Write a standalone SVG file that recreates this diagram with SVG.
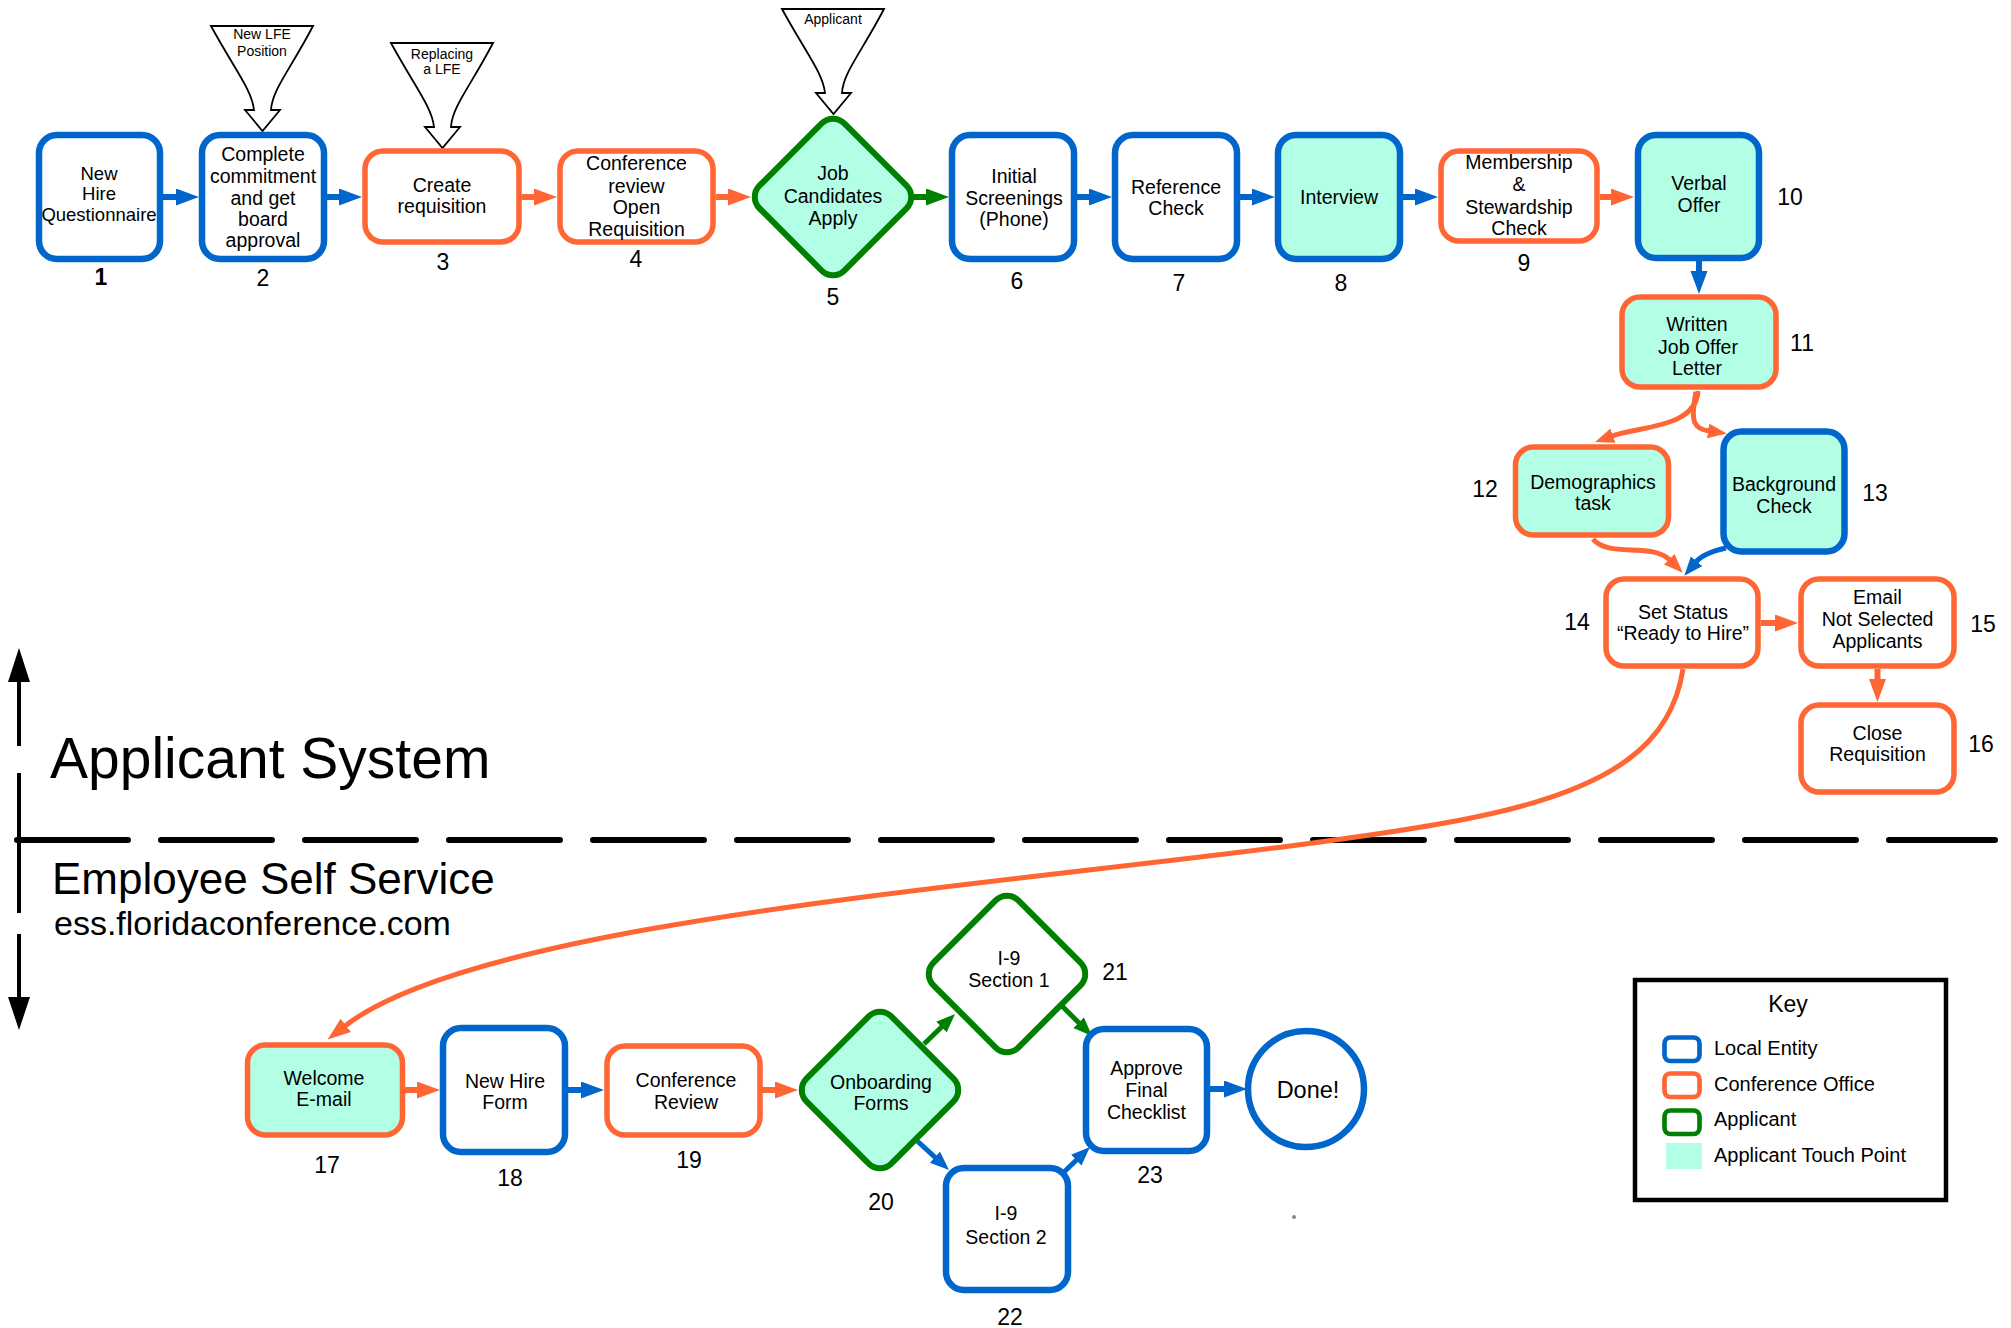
<svg xmlns="http://www.w3.org/2000/svg" width="2011" height="1328" viewBox="0 0 2011 1328">
<defs>
<style>
text{font-family:"Liberation Sans",Arial,sans-serif;fill:#000}
.t{font-size:19.5px;text-anchor:middle}
.ts{font-size:18.5px;text-anchor:middle}
.n{font-size:23px;text-anchor:middle}
.c{font-size:14px;text-anchor:middle}
.k{font-size:20px}
.bb{fill:#fff;stroke:#0066cc;stroke-width:6.5}
.bo{fill:#fff;stroke:#ff6633;stroke-width:5.5}
.bg{fill:#fff;stroke:#008000;stroke-width:6}
.m{fill:#b3ffe6}
.cb{fill:none;stroke:#0066cc;stroke-width:6}
.co{fill:none;stroke:#ff6633;stroke-width:6}
.cg{fill:none;stroke:#008000;stroke-width:6}
.thin{stroke-width:5}
.call{fill:#fff;stroke:#000;stroke-width:1.8;stroke-linejoin:miter}
</style>
<marker id="ab" markerUnits="userSpaceOnUse" markerWidth="24" markerHeight="18" refX="1" refY="8.5" orient="auto"><path d="M0,0 L23,8.5 L0,17 Z" fill="#0066cc"/></marker>
<marker id="ao" markerUnits="userSpaceOnUse" markerWidth="24" markerHeight="18" refX="1" refY="8.5" orient="auto"><path d="M0,0 L23,8.5 L0,17 Z" fill="#ff6633"/></marker>
<marker id="ag" markerUnits="userSpaceOnUse" markerWidth="24" markerHeight="18" refX="1" refY="8.5" orient="auto"><path d="M0,0 L23,8.5 L0,17 Z" fill="#008000"/></marker>
<marker id="sb" markerUnits="userSpaceOnUse" markerWidth="20" markerHeight="16" refX="1" refY="7.5" orient="auto"><path d="M0,0 L19,7.5 L0,15 Z" fill="#0066cc"/></marker>
<marker id="so" markerUnits="userSpaceOnUse" markerWidth="20" markerHeight="16" refX="1" refY="7.5" orient="auto"><path d="M0,0 L19,7.5 L0,15 Z" fill="#ff6633"/></marker>
<marker id="sg" markerUnits="userSpaceOnUse" markerWidth="20" markerHeight="16" refX="1" refY="7.5" orient="auto"><path d="M0,0 L19,7.5 L0,15 Z" fill="#008000"/></marker>
<path id="callout" class="call" d="M211,26 L313,26 C290,70 272,90 271,110 L280,110 L262.5,131 L245,110 L254,110 C252,90 235,70 211,26 Z"/>
<rect id="dia" x="-60" y="-60" width="120" height="120" rx="16" transform="rotate(45)"/>
</defs>

<rect width="2011" height="1328" fill="#fff"/>

<g id="axis">
<path d="M19,680 V746 M19,773 V913 M19,934 V998" stroke="#000" stroke-width="4" fill="none"/>
<path d="M8,682 L19,648 L30,682 Z" fill="#000"/>
<path d="M8,997 L19,1030 L30,997 Z" fill="#000"/>
<line x1="17" y1="840" x2="1995" y2="840" stroke="#000" stroke-width="6" stroke-dasharray="111 33" stroke-linecap="round"/>
<text x="50" y="778" font-size="57">Applicant System</text>
<text x="52" y="894" font-size="44">Employee Self Service</text>
<text x="54" y="935" font-size="34">ess.floridaconference.com</text>
</g>

<g id="callouts">
<use href="#callout"/>
<text class="c" x="262" y="39">New LFE</text>
<text class="c" x="262" y="56">Position</text>
<use href="#callout" transform="translate(180,17)"/>
<text class="c" x="442" y="59">Replacing</text>
<text class="c" x="442" y="74">a LFE</text>
<use href="#callout" transform="translate(571,-17)"/>
<text class="c" x="833" y="24">Applicant</text>
</g>

<g id="connectors">
<path class="cb" d="M163,197 H177" marker-end="url(#ab)"/>
<path class="cb" d="M327,197 H340" marker-end="url(#ab)"/>
<path class="co" d="M522,197 H535" marker-end="url(#ao)"/>
<path class="co" d="M716,197 H729" marker-end="url(#ao)"/>
<path class="cg" d="M914,197 H927" marker-end="url(#ag)"/>
<path class="cb" d="M1077,197 H1090" marker-end="url(#ab)"/>
<path class="cb" d="M1240,197 H1253" marker-end="url(#ab)"/>
<path class="cb" d="M1403,197 H1416" marker-end="url(#ab)"/>
<path class="co" d="M1600,197 H1612" marker-end="url(#ao)"/>
<path class="cb" d="M1699,261 V272" marker-end="url(#ab)"/>
<path class="co thin" d="M1698,391 C1696,428 1640,426 1612,436" marker-end="url(#so)"/>
<path class="co thin" d="M1696,392 C1690,422 1694,429 1709,431" marker-end="url(#so)"/>
<path class="co thin" d="M1593,539 C1608,558 1652,542 1670,560" marker-end="url(#so)"/>
<path class="cb thin" d="M1726,548 C1712,551 1702,555 1696,562" marker-end="url(#sb)"/>
<path class="co" d="M1761,623 H1776" marker-end="url(#ao)"/>
<path class="co" d="M1877.5,669 V680" marker-end="url(#ao)"/>
<path class="co thin" d="M1683,669 C1672,740 1620,790 1461,820 C1160,877 500,905 345,1026" marker-end="url(#ao)"/>
<path class="co" d="M405,1090 H418" marker-end="url(#ao)"/>
<path class="cb" d="M568,1090 H582" marker-end="url(#ab)"/>
<path class="co" d="M762,1090 H776" marker-end="url(#ao)"/>
<path class="cg thin" d="M924,1044 L942.1,1026.5" marker-end="url(#sg)"/>
<path class="cg thin" d="M1062,1006 L1079.3,1023.3" marker-end="url(#sg)"/>
<path class="cb thin" d="M914,1138 L935.7,1157.8" marker-end="url(#sb)"/>
<path class="cb thin" d="M1064,1172 L1077,1159.5" marker-end="url(#sb)"/>
<path class="cb" d="M1210,1089 H1225" marker-end="url(#ab)"/>
</g>

<g id="n1"><rect class="bb" x="39" y="135" width="121" height="124" rx="18"/>
<text class="ts" x="99" y="180">New</text><text class="ts" x="99" y="200">Hire</text><text class="ts" x="99" y="221">Questionnaire</text>
<text class="n" x="101" y="285" font-weight="bold">1</text></g>

<g id="n2"><rect class="bb" x="202" y="135" width="122" height="124" rx="18"/>
<text class="t" x="263" y="161">Complete</text><text class="t" x="263" y="183">commitment</text><text class="t" x="263" y="205">and get</text><text class="t" x="263" y="226">board</text><text class="t" x="263" y="247">approval</text>
<text class="n" x="263" y="286">2</text></g>

<g id="n3"><rect class="bo" x="365" y="151" width="154" height="91" rx="18"/>
<text class="t" x="442" y="192">Create</text><text class="t" x="442" y="213">requisition</text>
<text class="n" x="443" y="270">3</text></g>

<g id="n4"><rect class="bo" x="560" y="151" width="153" height="91" rx="18"/>
<text class="t" x="636.5" y="170">Conference</text><text class="t" x="636.5" y="193">review</text><text class="t" x="636.5" y="214">Open</text><text class="t" x="636.5" y="236">Requisition</text>
<text class="n" x="636" y="267">4</text></g>

<g id="n5"><use href="#dia" class="bg m" transform="translate(833,197)"/>
<text class="t" x="833" y="180">Job</text><text class="t" x="833" y="203">Candidates</text><text class="t" x="833" y="225">Apply</text>
<text class="n" x="833" y="305">5</text></g>

<g id="n6"><rect class="bb" x="952" y="135" width="122" height="124" rx="18"/>
<text class="t" x="1014" y="183">Initial</text><text class="t" x="1014" y="205">Screenings</text><text class="t" x="1014" y="226">(Phone)</text>
<text class="n" x="1017" y="289">6</text></g>

<g id="n7"><rect class="bb" x="1115" y="135" width="122" height="124" rx="18"/>
<text class="t" x="1176" y="194">Reference</text><text class="t" x="1176" y="215">Check</text>
<text class="n" x="1179" y="291">7</text></g>

<g id="n8"><rect class="bb m" x="1278" y="135" width="122" height="124" rx="18"/>
<text class="t" x="1339" y="204">Interview</text>
<text class="n" x="1341" y="291">8</text></g>

<g id="n9"><rect class="bo" x="1441" y="151" width="156" height="90" rx="18"/>
<text class="t" x="1519" y="169">Membership</text><text class="t" x="1519" y="191">&amp;</text><text class="t" x="1519" y="214">Stewardship</text><text class="t" x="1519" y="235">Check</text>
<text class="n" x="1524" y="271">9</text></g>

<g id="n10"><rect class="bb m" x="1638" y="135" width="121" height="123" rx="18"/>
<text class="t" x="1699" y="190">Verbal</text><text class="t" x="1699" y="212">Offer</text>
<text class="n" x="1790" y="205">10</text></g>

<g id="n11"><rect class="bo m" x="1622" y="297" width="154" height="90" rx="18"/>
<text class="t" x="1697" y="331">Written</text><text class="t" x="1698" y="354">Job Offer</text><text class="t" x="1697" y="375">Letter</text>
<text class="n" x="1802" y="351">11</text></g>

<g id="n12"><rect class="bo m" x="1515.5" y="447" width="153" height="88" rx="18"/>
<text class="t" x="1593" y="489">Demographics</text><text class="t" x="1593" y="510">task</text>
<text class="n" x="1485" y="497">12</text></g>

<g id="n13"><rect class="bb m" x="1723.5" y="431.5" width="121" height="120" rx="18"/>
<text class="t" x="1784" y="491">Background</text><text class="t" x="1784" y="513">Check</text>
<text class="n" x="1875" y="501">13</text></g>

<g id="n14"><rect class="bo" x="1606" y="579" width="152" height="87" rx="18"/>
<text class="t" x="1683" y="619">Set Status</text><text class="t" x="1683" y="640">“Ready to Hire”</text>
<text class="n" x="1577" y="630">14</text></g>

<g id="n15"><rect class="bo" x="1801" y="579" width="153" height="87" rx="18"/>
<text class="t" x="1877.5" y="604">Email</text><text class="t" x="1877.5" y="626">Not Selected</text><text class="t" x="1877.5" y="648">Applicants</text>
<text class="n" x="1983" y="632">15</text></g>

<g id="n16"><rect class="bo" x="1801" y="705" width="153" height="87" rx="18"/>
<text class="t" x="1877.5" y="740">Close</text><text class="t" x="1877.5" y="761">Requisition</text>
<text class="n" x="1981" y="752">16</text></g>

<g id="n17"><rect class="bo m" x="247.5" y="1045" width="155" height="90" rx="18"/>
<text class="t" x="324" y="1085">Welcome</text><text class="t" x="324" y="1106">E-mail</text>
<text class="n" x="327" y="1173">17</text></g>

<g id="n18"><rect class="bb" x="443" y="1028" width="122" height="124" rx="18"/>
<text class="t" x="505" y="1088">New Hire</text><text class="t" x="505" y="1109">Form</text>
<text class="n" x="510" y="1186">18</text></g>

<g id="n19"><rect class="bo" x="607" y="1046" width="153" height="89" rx="18"/>
<text class="t" x="686" y="1087">Conference</text><text class="t" x="686" y="1109">Review</text>
<text class="n" x="689" y="1168">19</text></g>

<g id="n20"><use href="#dia" class="bg m" transform="translate(880,1090)"/>
<text class="t" x="881" y="1089">Onboarding</text><text class="t" x="881" y="1110">Forms</text>
<text class="n" x="881" y="1210">20</text></g>

<g id="n21"><use href="#dia" class="bg" transform="translate(1007,974)"/>
<text class="t" x="1009" y="965">I-9</text><text class="t" x="1009" y="987">Section 1</text>
<text class="n" x="1115" y="980">21</text></g>

<g id="n22"><rect class="bb" x="946" y="1168" width="122" height="122" rx="18"/>
<text class="t" x="1006" y="1220">I-9</text><text class="t" x="1006" y="1244">Section 2</text>
<text class="n" x="1010" y="1325">22</text></g>

<g id="n23"><rect class="bb" x="1086" y="1029" width="121" height="122" rx="18"/>
<text class="t" x="1146.5" y="1075">Approve</text><text class="t" x="1146.5" y="1097">Final</text><text class="t" x="1146.5" y="1119">Checklist</text>
<text class="n" x="1150" y="1183">23</text></g>

<g id="done"><circle cx="1306" cy="1089" r="58" fill="#fff" stroke="#0066cc" stroke-width="6.5"/>
<text x="1308" y="1098" font-size="23.5" text-anchor="middle">Done!</text></g>

<circle cx="1294" cy="1217" r="2" fill="#888"/>

<g id="key">
<rect x="1635" y="980" width="311" height="220" fill="#fff" stroke="#000" stroke-width="4.5"/>
<text x="1788" y="1012" font-size="23" text-anchor="middle">Key</text>
<rect x="1664.5" y="1037.5" width="35" height="23.5" rx="6" fill="#fff" stroke="#0066cc" stroke-width="4.7"/>
<rect x="1664.5" y="1073.5" width="35" height="23.5" rx="6" fill="#fff" stroke="#ff6633" stroke-width="4.7"/>
<rect x="1664.5" y="1110.5" width="35" height="23.5" rx="6" fill="#fff" stroke="#008000" stroke-width="4.7"/>
<rect x="1666" y="1143" width="36" height="26" fill="#b3ffe6"/>
<text class="k" x="1714" y="1055">Local Entity</text>
<text class="k" x="1714" y="1091">Conference Office</text>
<text class="k" x="1714" y="1126">Applicant</text>
<text class="k" x="1714" y="1162">Applicant Touch Point</text>
</g>
</svg>
